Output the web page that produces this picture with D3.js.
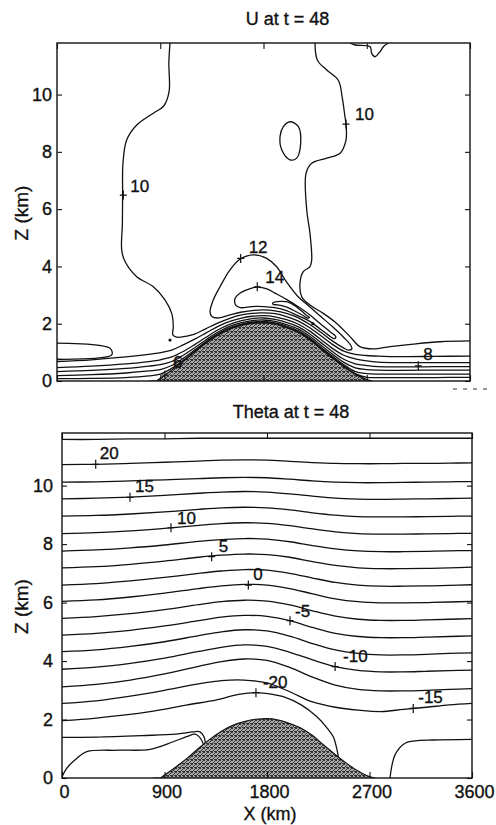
<!DOCTYPE html>
<html><head><meta charset="utf-8">
<script src="https://cdn.jsdelivr.net/npm/d3@7"></script>
<style>
body{margin:0;background:#fff}
text{font-family:"Liberation Sans",Arial,Helvetica,sans-serif;fill:#111;stroke:#111;stroke-width:0.35px}
</style></head>
<body><svg id="c" width="496" height="825"></svg>
<script>
// ---------------- DATA ----------------
const xTicks = [0, 900, 1800, 2700, 3600];
const yTicks = [0, 2, 4, 6, 8, 10];
const titles = ["U at t = 48", "Theta at t = 48"];

// terrain (km, km)
const terrainX = [0, 800, 860, 900, 1000, 1100, 1200, 1300, 1400, 1500, 1600, 1700, 1800, 1900, 2000, 2100, 2200, 2300, 2400, 2500, 2600, 2700, 2750, 3600];
const terrainZ = [0, 0, 0, 0.1, 0.38, 0.68, 1.02, 1.33, 1.6, 1.8, 1.93, 2.01, 2.03, 1.98, 1.86, 1.7, 1.45, 1.12, 0.8, 0.5, 0.24, 0.05, 0, 0];

// ---- U panel: boundary-layer band contours sampled at uBandX ----
const uBandX = [0, 300, 600, 800, 900, 1000, 1100, 1200, 1300, 1400, 1500, 1600, 1700, 1800, 1900, 2000, 2100, 2200, 2300, 2400, 2500, 2600, 2700, 2800, 3000, 3300, 3600];
const uBand1 = [.68,.74,.84,.93,.99,1.08,1.26,1.46,1.68,1.9,2.07,2.19,2.26,2.28,2.24,2.14,1.99,1.75,1.45,1.14,.9,.77,.7,.66,.64,.64,.64];
const uBand2 = [.47,.52,.6,.68,.74,.84,1.03,1.27,1.53,1.78,1.97,2.1,2.18,2.2,2.15,2.05,1.9,1.65,1.34,1.03,.76,.6,.54,.5,.49,.5,.5];
const uBand3 = [.33,.37,.44,.52,.57,.68,.9,1.16,1.44,1.7,1.9,2.03,2.11,2.13,2.08,1.97,1.82,1.57,1.25,.94,.65,.46,.4,.38,.37,.38,.38];
const uBand4 = [.19,.22,.28,.35,.4,.54,.79,1.08,1.38,1.65,1.85,1.98,2.06,2.08,2.03,1.92,1.76,1.51,1.18,.87,.57,.33,.26,.24,.24,.24,.24];
const uBand5 = [.08,.09,.12,.18,.24,.44,.72,1.04,1.35,1.62,1.82,1.95,2.03,2.05,2.0,1.88,1.72,1.47,1.14,.82,.52,.26,.13,.12,.12,.12,.13];

// U = 10 contour, left branch (top edge -> hook -> over the ridge -> lee -> right edge)
const u10Left = [[985,11.8],[975,11.1],[977,10.1],[930,9.6],[840,9.35],[695,8.94],[607,8.41],[575,7.6],[572,6.49],[570,5.5],[564,4.57],[593,4.17],[695,3.64],[840,3.29],[941,2.83],[1000,2.36],[1014,1.9],[1010,1.61],[1043,1.53],[1131,1.57],[1200,1.64],[1300,1.83],[1400,2.02],[1500,2.18],[1600,2.3],[1700,2.36],[1800,2.38],[1900,2.35],[2000,2.25],[2100,2.1],[2200,1.87],[2300,1.58],[2400,1.28],[2500,1.04],[2600,.93],[2700,.89],[2800,.87],[3000,.85],[3300,.86],[3600,.87]];
// U = 10 contour, right branch
const u10Right = [[2249,11.8],[2270,11.2],[2351,10.86],[2452,10.5],[2485,9.93],[2510,9.23],[2519,8.97],[2519,8.41],[2467,7.95],[2351,7.78],[2220,7.6],[2171,7.25],[2177,5.97],[2205,5.16],[2220,4.22],[2205,3.99],[2147,3.82],[2118,3.41],[2133,2.94],[2205,2.65],[2321,2.36],[2438,2.01],[2554,1.55],[2641,1.2],[2757,1.12],[2903,1.2],[3106,1.29],[3339,1.37],[3600,1.4]];
// closed contours
const u12 = [[1334,2.42],[1362,2.83],[1421,3.29],[1508,3.88],[1595,4.25],[1711,4.4],[1828,4.28],[1915,3.99],[2002,3.45],[2100,2.95],[2200,2.6],[2300,2.25],[2400,1.9],[2500,1.52],[2560,1.25],[2570,1.12],[2540,1.08],[2500,1.15],[2400,1.4],[2300,1.7],[2200,1.98],[2100,2.21],[2000,2.36],[1900,2.45],[1800,2.48],[1700,2.46],[1600,2.4],[1500,2.3],[1400,2.2],[1350,2.25]];
const u14 = [[1552,2.88],[1600,3.08],[1680,3.22],[1746,3.28],[1830,3.22],[1900,3.07],[2000,2.85],[2100,2.6],[2200,2.32],[2300,1.98],[2380,1.72],[2430,1.55],[2420,1.48],[2360,1.62],[2300,1.8],[2200,2.09],[2100,2.28],[2000,2.46],[1900,2.56],[1800,2.6],[1700,2.6],[1600,2.56],[1560,2.64]];
const u16 = [[1880,2.72],[1950,2.78],[2010,2.76],[2070,2.64],[2130,2.45],[2180,2.28],[2200,2.22],[2180,2.2],[2130,2.32],[2060,2.47],[1990,2.6],[1920,2.66],[1885,2.67]];
const uOval = [[2031,9.05],[2104,8.88],[2124,8.3],[2089,7.78],[2031,7.72],[1959,8.07],[1944,8.53],[1973,8.88]];
const uTopBlob = [[2554,11.8],[2598,11.73],[2729,11.67],[2743,11.44],[2772,11.32],[2816,11.5],[2845,11.67],[2888,11.8]];
const uLeftWedge = [[0,1.32],[462,1.14],[477,.91],[0,.76]];
const uDots = [[985,1.43],[2230,2.0]];
// contour labels: [text, x(km), z(km)]
const uLabels = [["10",578,6.49],["10",2519,8.97],["12",1601,4.28],["14",1746,3.29],["6",941,0.21],["8",3149,0.53]];

// ---- Theta panel ----
const thetaX = [0, 300, 600, 900, 1200, 1400, 1600, 1800, 2000, 2200, 2400, 2600, 2800, 3000, 3200, 3400, 3600];
const thetaL1  = [11.58,11.58,11.6,11.6,11.62,11.62,11.62,11.62,11.62,11.62,11.62,11.62,11.62,11.62,11.62,11.62,11.62];
const thetaL2  = [10.72,10.73,10.76,10.8,10.84,10.87,10.88,10.87,10.83,10.79,10.76,10.75,10.75,10.76,10.76,10.77,10.78];
const thetaL3  = [10.12,10.13,10.16,10.2,10.24,10.27,10.28,10.27,10.22,10.16,10.12,10.1,10.1,10.11,10.12,10.13,10.14];
const thetaL4  = [9.55,9.57,9.61,9.67,9.74,9.78,9.8,9.78,9.72,9.64,9.57,9.54,9.53,9.54,9.55,9.56,9.57];
const thetaL5  = [8.96,8.98,9.03,9.1,9.19,9.24,9.26,9.24,9.17,9.07,8.99,8.94,8.93,8.93,8.94,8.95,8.96];
const thetaL6  = [8.36,8.39,8.45,8.54,8.64,8.7,8.73,8.71,8.63,8.52,8.42,8.36,8.34,8.34,8.35,8.36,8.37];
const thetaL7  = [7.76,7.8,7.87,7.97,8.09,8.15,8.19,8.17,8.08,7.95,7.84,7.77,7.74,7.74,7.75,7.77,7.78];
const thetaL8  = [7.19,7.23,7.31,7.42,7.55,7.62,7.66,7.64,7.55,7.4,7.27,7.19,7.16,7.16,7.17,7.19,7.21];
const thetaL9  = [6.6,6.65,6.74,6.86,7.0,7.08,7.13,7.11,7.0,6.84,6.69,6.6,6.56,6.56,6.57,6.59,6.61];
const thetaL10 = [6.04,6.09,6.19,6.32,6.48,6.57,6.62,6.6,6.48,6.3,6.13,6.03,5.99,5.99,6.0,6.02,6.04];
const thetaL11 = [5.46,5.52,5.62,5.76,5.93,6.03,6.08,6.05,5.92,5.72,5.54,5.43,5.39,5.39,5.41,5.43,5.45];
const thetaL12 = [4.89,4.95,5.05,5.2,5.38,5.5,5.56,5.53,5.38,5.15,4.95,4.84,4.8,4.8,4.82,4.84,4.86];
const thetaL13 = [4.32,4.38,4.5,4.66,4.87,5.0,5.07,5.03,4.85,4.6,4.38,4.26,4.21,4.21,4.23,4.26,4.28];
const thetaL14 = [3.72,3.79,3.92,4.1,4.33,4.47,4.55,4.5,4.3,4.04,3.81,3.68,3.63,3.63,3.65,3.67,3.69];
const thetaL15 = [3.12,3.2,3.35,3.56,3.82,3.98,4.07,4.02,3.78,3.45,3.18,3.03,2.98,2.98,3.0,3.03,3.06];
const thetaL16 = [2.55,2.64,2.8,3.0,3.22,3.33,3.35,3.25,2.95,2.6,2.42,2.32,2.27,2.35,2.42,2.5,2.55];
// lowest contours (x,z pairs)
const thetaL17 = [[0,1.96],[300,2.05],[773,2.27],[1100,2.5],[1358,2.67],[1550,2.86],[1703,2.92],[1850,2.86],[1943,2.78],[2100,2.5],[2236,2.1],[2330,1.7],[2382,1.41],[2410,1.05],[2426,0.73],[2430,0.6]];
const thetaLeftLow = [[0,1.39],[300,1.4],[700,1.45],[1000,1.5],[1153,1.58],[1212,1.58],[1247,1.41],[1264,1.02],[1270,0.9]];
const thetaLeftSfc = [[0,0.04],[41,0.33],[129,0.67],[217,0.9],[500,0.95],[773,0.98],[977,1.24],[1100,1.42],[1170,1.5],[1225,1.3],[1250,1.0]];
const thetaRightSfc = [[2880,0],[2924,0.79],[3012,1.19],[3100,1.27],[3260,1.3],[3600,1.32]];
const thetaLabels = [["20",296,10.73],["15",597,9.6],["10",957,8.56],["5",1314,7.57],["0",1636,6.6],["-5",2002,5.38],["-10",2398,3.81],["-15",3084,2.38],["-20",1703,2.92]];

// ---------------- DRAWING ----------------
const FONT = '"Liberation Sans",Arial,sans-serif';
const svg = d3.select("#c");
const defs = svg.append("defs");
const pat = defs.append("pattern").attr("id","stip").attr("width",4).attr("height",4).attr("patternUnits","userSpaceOnUse");
pat.append("rect").attr("width",4).attr("height",4).attr("fill","#a8a8a8");
[[0,0],[2,1],[1,2],[3,3],[3,0],[0,3],[2,3]].forEach(p=>pat.append("rect").attr("x",p[0]).attr("y",p[1]).attr("width",1).attr("height",1).attr("fill","#333"));

const panels = [
  {l:57, r:470, t:43, b:381, title:titles[0], ty:25, lblPad:5, xLabels:false, id:"p0"},
  {l:62, r:472, t:433, b:778, title:titles[1], ty:418, lblPad:9, xLabels:true, id:"p1"}
];

function setup(p){
  const x = d3.scaleLinear().domain([0,3600]).range([p.l,p.r]);
  const y = d3.scaleLinear().domain([0,11.8]).range([p.b,p.t]);
  const g = svg.append("g");
  defs.append("clipPath").attr("id","clip"+p.id).append("rect")
     .attr("x",p.l).attr("y",p.t).attr("width",p.r-p.l).attr("height",p.b-p.t);
  const plot = g.append("g").attr("clip-path","url(#clip"+p.id+")");
  return {x,y,g,plot};
}

function drawAxes(p, S){
  const {x,y,g} = S;
  g.append("rect").attr("x",p.l).attr("y",p.t).attr("width",p.r-p.l).attr("height",p.b-p.t)
    .attr("fill","none").attr("stroke","#111").attr("stroke-width",1.4);
  const ax = [
    d3.axisLeft(y).tickValues(yTicks).tickSize(-5).tickFormat(""),
    d3.axisRight(y).tickValues(yTicks).tickSize(-5).tickFormat(""),
    d3.axisTop(x).tickValues(xTicks).tickSize(-6).tickFormat(""),
    d3.axisBottom(x).tickValues(xTicks).tickSize(-6).tickFormat("")
  ];
  const tr = [`translate(${p.l},0)`,`translate(${p.r},0)`,`translate(0,${p.t})`,`translate(0,${p.b})`];
  ax.forEach((a,i)=>{
    const ag = g.append("g").attr("transform",tr[i]).call(a);
    ag.select(".domain").remove();
    ag.selectAll("line").attr("stroke","#111").attr("stroke-width",1.1);
  });
  const yl = g.append("g").attr("transform",`translate(${p.l},0)`)
     .call(d3.axisLeft(y).tickValues(yTicks).tickSize(0).tickPadding(p.lblPad).tickFormat(d3.format("d")));
  yl.select(".domain").remove();
  yl.selectAll("text").attr("font-size",18).attr("fill","#111").attr("font-family",FONT);
  if(p.xLabels){
    const xl = g.append("g").attr("transform",`translate(2,${p.b})`)
      .call(d3.axisBottom(x).tickValues(xTicks).tickSize(0).tickPadding(7).tickFormat(d3.format("d")));
    xl.select(".domain").remove();
    xl.selectAll("text").attr("font-size",18).attr("fill","#111").attr("font-family",FONT);
    g.append("text").attr("x",(p.l+p.r)/2+3).attr("y",820).attr("text-anchor","middle")
      .attr("font-size",18).text("X (km)");
  }
  g.append("text").attr("transform",`translate(28,${(p.t+p.b)/2+1}) rotate(-90)`)
    .attr("text-anchor","middle").attr("font-size",19).text("Z (km)");
  g.append("text").attr("x",(p.l+p.r)/2+24).attr("y",p.ty).attr("text-anchor","middle")
    .attr("font-size",18).text(p.title);
}

function lineGen(S, closed){
  return d3.line().x(d=>S.x(d[0])).y(d=>S.y(d[1]))
    .curve(closed ? d3.curveCatmullRomClosed.alpha(0.5) : d3.curveCatmullRom.alpha(0.5));
}
function drawPath(S, pts, closed){
  S.plot.append("path").attr("d", lineGen(S,closed)(pts))
    .attr("fill","none").attr("stroke","#111").attr("stroke-width",1.3).attr("stroke-linejoin","round");
}
function drawTerrain(S){
  const pts = terrainX.map((v,i)=>[v,terrainZ[i]]);
  const area = d3.area().x(d=>S.x(d[0])).y0(S.y(0)).y1(d=>S.y(d[1])).curve(d3.curveMonotoneX);
  S.plot.append("path").attr("d",area(pts)).attr("fill","url(#stip)").attr("stroke","none");
  const ln = d3.line().x(d=>S.x(d[0])).y(d=>S.y(d[1])).curve(d3.curveMonotoneX);
  S.plot.append("path").attr("d",ln(pts.slice(1,-1))).attr("fill","none").attr("stroke","#111").attr("stroke-width",1.2);
}
function drawLabels(S, labels, offs){
  labels.forEach((L,i)=>{
    const px = S.x(L[1]), py = S.y(L[2]);
    S.g.append("path").attr("d",`M${px-3.5},${py}H${px+3.5}M${px},${py-4.5}V${py+4.5}`)
      .attr("stroke","#111").attr("stroke-width",1.2);
    S.g.append("text").attr("x",px+offs[i][0]).attr("y",py+offs[i][1])
      .attr("font-size",17).text(L[0]);
  });
}

// ---- top panel ----
{
  const p = panels[0], S = setup(p);
  [uBand1,uBand2,uBand3,uBand4,uBand5].forEach(b=>drawPath(S, uBandX.map((v,i)=>[v,b[i]]), false));
  drawPath(S,u10Left,false);
  drawPath(S,u10Right,false);
  drawPath(S,u12,true);
  drawPath(S,u14,true);
  drawPath(S,u16,true);
  drawPath(S,uOval,true);
  drawPath(S,uTopBlob,false);
  drawPath(S,uLeftWedge,false);
  uDots.forEach(d=>S.plot.append("circle").attr("cx",S.x(d[0])).attr("cy",S.y(d[1])).attr("r",1.6).attr("fill","#111"));
  drawTerrain(S);
  drawAxes(p,S);
  drawLabels(S,uLabels,[[7,-3],[9,-4],[8,-5],[8,-4],[8,-7],[5,-6]]);
  svg.append("line").attr("x1",453).attr("x2",490).attr("y1",389).attr("y2",389)
    .attr("stroke","#333").attr("stroke-width",1.2).attr("stroke-dasharray","4,6");
}
// ---- bottom panel ----
{
  const p = panels[1], S = setup(p);
  [thetaL1,thetaL2,thetaL3,thetaL4,thetaL5,thetaL6,thetaL7,thetaL8,thetaL9,thetaL10,thetaL11,thetaL12,thetaL13,thetaL14,thetaL15,thetaL16]
    .forEach(l=>drawPath(S, thetaX.map((v,i)=>[v,l[i]]), false));
  drawPath(S,thetaL17,false);
  drawPath(S,thetaLeftLow,false);
  drawPath(S,thetaLeftSfc,false);
  drawPath(S,thetaRightSfc,false);
  drawTerrain(S);
  drawAxes(p,S);
  drawLabels(S,thetaLabels,[[4,-5],[5,-5],[6,-4],[7,-5],[5,-5],[5,-4],[8,-5],[5,-5],[7,-5]]);
}
</script>
</body></html>
